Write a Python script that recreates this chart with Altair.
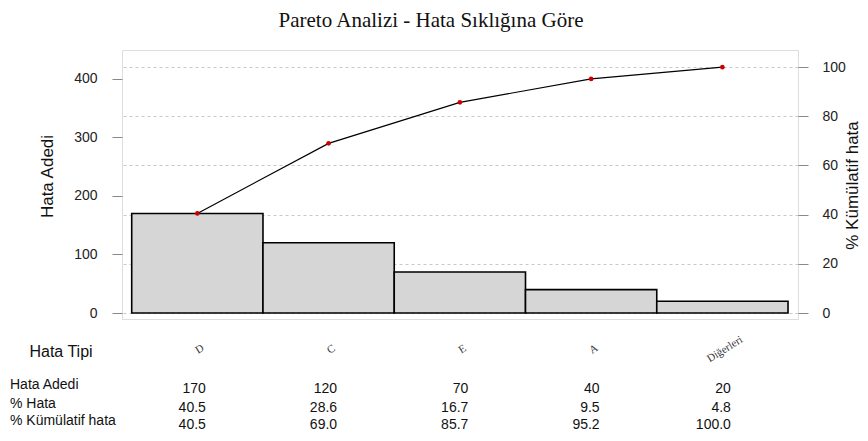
import altair as alt
import pandas as pd

# ---- data ----
categories = ["D", "C", "E", "A", "Diğerleri"]
counts = [170, 120, 70, 40, 20]
pct_error = [40.5, 28.6, 16.7, 9.5, 4.8]
cum_pct = [40.5, 69.0, 85.7, 95.2, 100.0]
row_labels = ["Hata Adedi", "% Hata", "% Kümülatif hata"]
left_ticks = [0, 100, 200, 300, 400]
right_ticks = [0, 20, 40, 60, 80, 100]
title_text = "Pareto Analizi - Hata Sıklığına Göre"

df = pd.DataFrame({
    "cat": categories,
    "count": counts,
    "pct": pct_error,
    "cum": cum_pct,
})
df["pos"] = range(len(df))
df["x0"] = df["pos"]
df["x1"] = df["pos"] + 1
df["xc"] = df["pos"] + 0.5
df["zero"] = 0

W, H = 676, 269
SANS = "Liberation Sans"
SERIF = "Liberation Serif"

xs = alt.Scale(domain=[-0.074, 5.076], nice=False, zero=False)
y_left = alt.Scale(domain=[-10.24, 449.3], nice=False, zero=False)
y_right = alt.Scale(domain=[-2.44, 106.98], nice=False, zero=False)

base = alt.Chart(df)

bars = base.mark_rect(fill="#d6d6d6", stroke="black", strokeWidth=1.6).encode(
    x=alt.X("x0:Q", scale=xs, axis=alt.Axis(
        values=[0.5, 1.5, 2.5, 3.5, 4.5], labels=False, title=None, grid=False,
        domain=False, tickSize=10, tickColor="#888888", tickWidth=1)),
    x2="x1:Q",
    y=alt.Y("count:Q", scale=y_left, axis=alt.Axis(
        values=left_ticks, grid=False, domain=False, tickSize=10,
        tickColor="#888888", labelFontSize=14, labelColor="#222222",
        labelPadding=15, labelFont=SANS,
        title="Hata Adedi", titleFontSize=17, titleFontWeight="normal",
        titleColor="#111111", titleFont=SANS, titleAngle=270,
        titleX=-75, titleY=126, titleAlign="center", titleBaseline="middle")),
    y2="zero:Q",
)

line = base.mark_line(color="black", strokeWidth=1.2).encode(
    x=alt.X("xc:Q", scale=xs, axis=None),
    y=alt.Y("cum:Q", scale=y_right, axis=alt.Axis(
        values=right_ticks, orient="right", grid=True, gridDash=[3, 3],
        gridColor="#c8c8c8", gridWidth=1, domain=False, tickSize=10,
        tickColor="#888888", labelFontSize=14, labelColor="#222222",
        labelPadding=14, labelFont=SANS,
        title="% Kümülatif hata", titleFontSize=17, titleFontWeight="normal",
        titleColor="#111111", titleFont=SANS, titleAngle=270,
        titleX=54, titleY=135, titleAlign="center", titleBaseline="middle")),
)

points = base.mark_circle(color="#cc0000", size=22, opacity=1).encode(
    x=alt.X("xc:Q", scale=xs, axis=None),
    y=alt.Y("cum:Q", scale=y_right, axis=None),
)

cat_labels = base.mark_text(font=SERIF, fontSize=11, color="#333333",
                            angle=328, dx=3).encode(
    x=alt.X("xc:Q", scale=xs, axis=None),
    y=alt.value(301),
    text="cat:N",
)

title_mark = alt.Chart(pd.DataFrame({"t": [title_text]})).mark_text(
    font=SERIF, fontSize=21, color="#111111", align="center", baseline="alphabetic"
).encode(x=alt.value(309), y=alt.value(-23), text="t:N")

hata_tipi = alt.Chart(pd.DataFrame({"t": ["Hata Tipi"]})).mark_text(
    font=SANS, fontSize=16, color="#111111", align="center", baseline="middle"
).encode(x=alt.value(-61), y=alt.value(302), text="t:N")

row_ys = [335, 354, 371]
row_text = []
for i, lab in enumerate(row_labels):
    row_text.append(
        alt.Chart(pd.DataFrame({"label": [lab]})).mark_text(
            font=SANS, fontSize=14, color="#111111", align="left", baseline="middle"
        ).encode(x=alt.value(-112), y=alt.value(row_ys[i]), text="label:N")
    )

val_ys = [339, 357.5, 375]
vals_count = base.mark_text(font=SANS, fontSize=14, color="#111111", align="right",
                            baseline="middle", dx=8.5).encode(
    x=alt.X("xc:Q", scale=xs, axis=None), y=alt.value(val_ys[0]),
    text=alt.Text("count:Q", format="d"))
vals_pct = base.mark_text(font=SANS, fontSize=14, color="#111111", align="right",
                          baseline="middle", dx=8.5).encode(
    x=alt.X("xc:Q", scale=xs, axis=None), y=alt.value(val_ys[1]),
    text=alt.Text("pct:Q", format=".1f"))
vals_cum = base.mark_text(font=SANS, fontSize=14, color="#111111", align="right",
                          baseline="middle", dx=8.5).encode(
    x=alt.X("xc:Q", scale=xs, axis=None), y=alt.value(val_ys[2]),
    text=alt.Text("cum:Q", format=".1f"))

chart = alt.layer(
    bars, line, points, cat_labels, title_mark, hata_tipi, *row_text,
    vals_count, vals_pct, vals_cum
).resolve_scale(y="independent").properties(
    width=W, height=H,
    autosize=alt.AutoSizeParams(type="none"),
    padding={"left": 114, "top": 42, "right": 62, "bottom": 114},
).configure_view(stroke="#999999", strokeWidth=1).configure(font=SANS)

chart.save("out.html", embed_options={"renderer": "svg", "actions": False})
